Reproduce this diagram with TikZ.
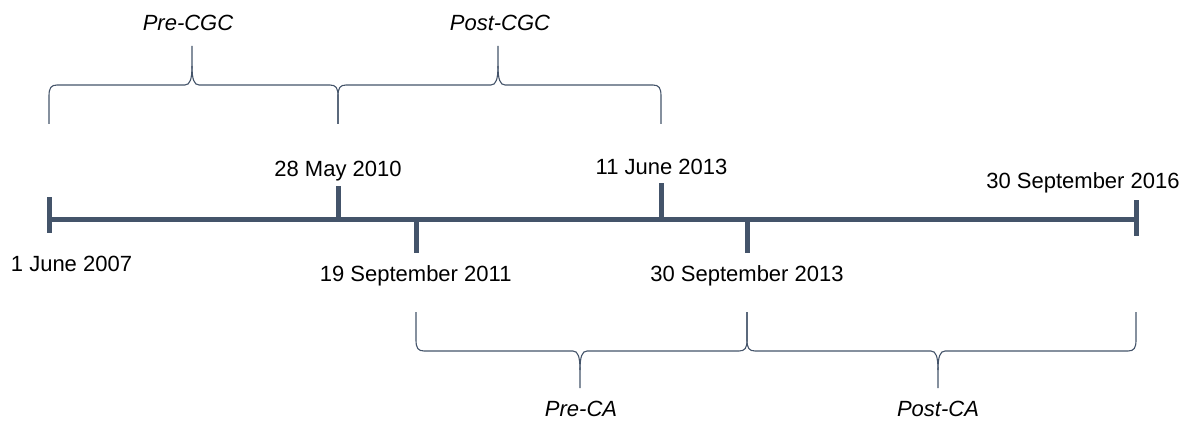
\documentclass[tikz,border=0pt]{standalone}
\usepackage{fontspec}
\setmainfont{Liberation Sans}
\definecolor{slate}{HTML}{44546A}
\tikzset{
  axis/.style={draw=slate, line width=5pt},
  tickmark/.style={draw=slate, line width=5pt},
  bracestyle/.style={draw=slate, line width=1.1pt},
  datelbl/.style={font=\fontsize{22}{26}\selectfont, anchor=base, inner sep=0pt},
  periodlbl/.style={font=\fontsize{22}{26}\selectfont\itshape, anchor=base, inner sep=0pt},
}
% #1 x start, #2 x end, #3 x tip, #4 y ends, #5 y line, #6 y tip, #7 sign
\newcommand\tlbrace[7]{%
  \draw[bracestyle] (#1,#4) -- (#1,{#5+11*#7})
    .. controls (#1,{#5+3*#7}) and ({#1+2},#5) .. ({#1+8},#5)
    -- ({#3-7},#5)
    .. controls ({#3-2},#5) and (#3,{#5-6*#7}) .. (#3,{#5-19*#7})
    -- (#3,#6);
  \draw[bracestyle] (#3,{#5-19*#7})
    .. controls (#3,{#5-6*#7}) and ({#3+2},#5) .. ({#3+7},#5)
    -- ({#2-8},#5)
    .. controls ({#2-2},#5) and (#2,{#5+3*#7}) .. (#2,{#5+11*#7})
    -- (#2,#4);
}
\begin{document}
\begin{tikzpicture}[x=1pt,y=-1pt]
\useasboundingbox (0,0) rectangle (1194,425);
% timeline points
\coordinate (start) at (49,219);
\coordinate (finish) at (1136,219);
\coordinate (s1) at (49,197);  \coordinate (s2) at (49,233);
\coordinate (f1) at (1136,200); \coordinate (f2) at (1136,236);
\coordinate (m1) at (338,186); \coordinate (m0) at (338,219);
\coordinate (j1) at (661,183); \coordinate (j0) at (661,219);
\coordinate (p1) at (416,253); \coordinate (p0) at (416,219);
\coordinate (q1) at (747,253); \coordinate (q0) at (747,219);
\draw[axis] (start) -- (finish);
\draw[tickmark] (s1) -- (s2);
\draw[tickmark] (f1) -- (f2);
\draw[tickmark] (m0) -- (m1);
\draw[tickmark] (j0) -- (j1);
\draw[tickmark] (p0) -- (p1);
\draw[tickmark] (q0) -- (q1);
% date labels
\node[datelbl] (d2010) at (338,176) {28 May 2010};
\node[datelbl] (d2013a) at (661.5,175) {11 June 2013};
\node[datelbl] (d2016) at (1083,188) {30 September 2016};
\node[datelbl] (d2007) at (71.5,271) {1 June 2007};
\node[datelbl] (d2011) at (415.7,281) {19 September 2011};
\node[datelbl] (d2013b) at (747,281) {30 September 2013};
% braces
\tlbrace{49}{338}{192}{124}{85}{46}{1}
\tlbrace{338}{661}{498}{124}{85}{46}{1}
\tlbrace{416}{747}{580}{312}{351}{388}{-1}
\tlbrace{747}{1136}{938}{312}{351}{388}{-1}
% period labels
\node[periodlbl] (precgc) at (188,31) {Pre-CGC};
\node[periodlbl] (postcgc) at (500,31) {Post-CGC};
\node[periodlbl] (preca) at (581,416) {Pre-CA};
\node[periodlbl] (postca) at (938,416) {Post-CA};
\end{tikzpicture}
\end{document}
